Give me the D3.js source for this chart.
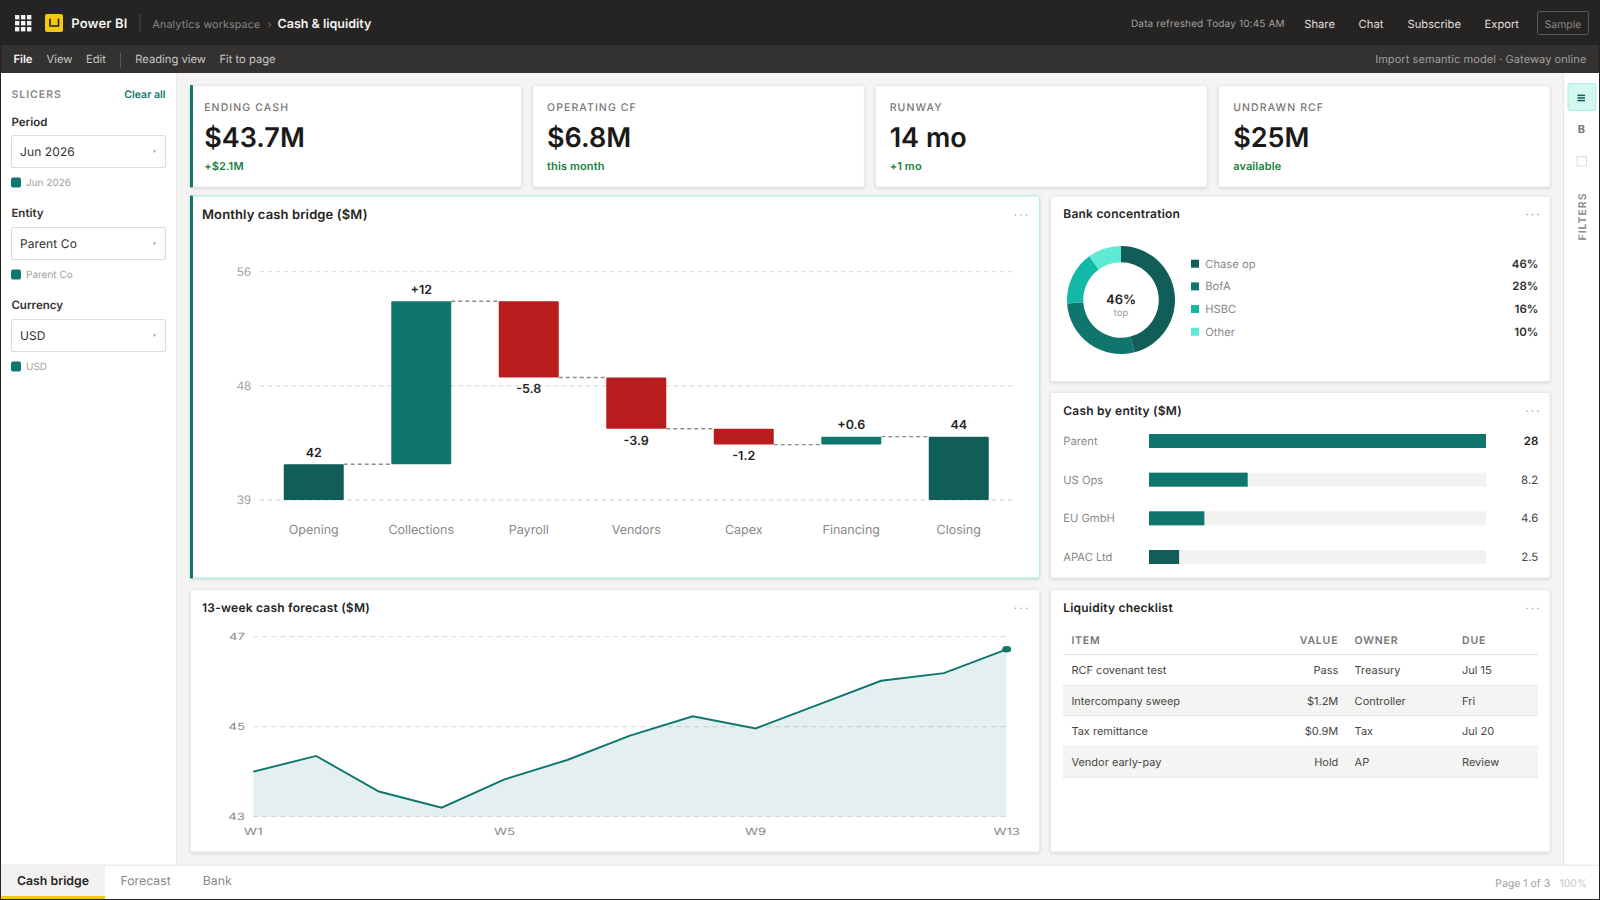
<!DOCTYPE html>
<html><head><meta charset="utf-8">
<script src="https://cdn.jsdelivr.net/npm/d3@7"></script>
<style>
html,body{margin:0;padding:0;background:#f4f4f2;overflow:hidden}
svg{display:block;font-family:Inter,"Noto Sans",sans-serif}
text{text-rendering:geometricPrecision}
</style></head><body><svg id="c" width="1600" height="900"></svg>
<script>
// ---- data ----
const bridgeCategories=["Opening","Collections","Payroll","Vendors","Capex","Financing","Closing"];
const bridgeDeltas=[41.6,12.4,-5.8,-3.9,-1.2,0.6,43.7];
const bridgeKinds=["total","delta","delta","delta","delta","delta","total"];
const bridgeLabels=["42","+12","-5.8","-3.9","-1.2","+0.6","44"];
const bridgeTicks=[38.88,47.56,56.25];
const bridgeTickLabels=["39","48","56"];
const bankNames=["Chase op","BofA","HSBC","Other"];
const bankShares=[46,28,16,10];
const bankColors=["#115e59","#0f766e","#14b8a6","#5eead4"];
const entityNames=["Parent","US Ops","EU GmbH","APAC Ltd"];
const entityValues=[28,8.2,4.6,2.5];
const entityLabels=["28","8.2","4.6","2.5"];
const forecastWeeks=["W1","W2","W3","W4","W5","W6","W7","W8","W9","W10","W11","W12","W13"];
const forecastValues=[44.0,44.35,43.56,43.2,43.83,44.26,44.8,45.23,44.96,45.49,46.02,46.19,46.72];
const forecastTicks=[43,45,47];
const forecastXLabels=["W1","W5","W9","W13"];
const kpiTitles=["ENDING CASH","OPERATING CF","RUNWAY","UNDRAWN RCF"];
const kpiValues=["$43.7M","$6.8M","14 mo","$25M"];
const kpiNotes=["+$2.1M","this month","+1 mo","available"];
const slicerTitles=["Period","Entity","Currency"];
const slicerValues=["Jun 2026","Parent Co","USD"];
const tableHeaders=["ITEM","VALUE","OWNER","DUE"];
const tableRows=[["RCF covenant test","Pass","Treasury","Jul 15"],["Intercompany sweep","$1.2M","Controller","Fri"],["Tax remittance","$0.9M","Tax","Jul 20"],["Vendor early-pay","Hold","AP","Review"]];

// ---- helpers ----
const svg=d3.select("#c");
function T(p,x,y,s,o={}){
  const t=p.append("text").attr("x",x).attr("y",y).attr("dominant-baseline","central").text(s)
   .attr("font-size",o.size||12).attr("font-weight",o.weight||400).attr("fill",o.fill||"#252423")
   .attr("text-anchor",o.anchor||"start");
  if(o.ls)t.attr("letter-spacing",o.ls);
  return t;
}
function R(p,x,y,w,h,fill,o={}){
  const r=p.append("rect").attr("x",x).attr("y",y).attr("width",w).attr("height",h).attr("fill",fill);
  if(o.rx)r.attr("rx",o.rx);
  if(o.stroke)r.attr("stroke",o.stroke).attr("stroke-width",o.sw||1);
  return r;
}
function card(x0,y0,x1,y1,o={}){
  const r=R(svg,x0+.5,y0+.5,x1-x0-1,y1-y0-1,"#fff",{rx:2,stroke:o.stroke||"#ebeae8"});
  r.style("filter","drop-shadow(0 1px 1.5px rgba(0,0,0,.13))");
  if(o.accent)R(svg,x0,y0,3,y1-y0,"#0f766e",{rx:1});
}
function cardTitle(x,y,s,rx,o={}){
  T(svg,x,y,s,{size:o.size||12,weight:600,fill:"#252423",ls:o.ls===undefined?.22:o.ls});
  const dotY=o.dotY===undefined?y+.5:o.dotY;
  [0,5.5,11].forEach(d=>svg.append("circle").attr("cx",rx+d).attr("cy",dotY).attr("r",.8).attr("fill","#a19f9d"));
}

// ---- chrome ----
R(svg,0,0,1600,45,"#252423");
R(svg,0,45,1600,28,"#333231");
R(svg,1,73,176,793,"#fff");
R(svg,176,73,1,793,"#edebe9");
R(svg,1563,73,36,793,"#fff");
R(svg,1563,73,1,793,"#e6e5e3");
R(svg,1,865,1598,34,"#fff");
R(svg,1,864.5,1598,1.5,"#edebe9");
// frame
R(svg,0,0,1,900,"#252423");R(svg,1599,0,1,900,"#252423");R(svg,0,899,1600,1,"#252423");

// waffle + logo
d3.range(3).forEach(i=>d3.range(3).forEach(j=>R(svg,15+i*6,15+j*6,4.4,4.4,"#f3f2f1")));
R(svg,45,14,18,18,"#f2c811",{rx:2});
svg.append("path").attr("d","M50 18.5V26H58.5V18.5").attr("fill","none").attr("stroke","#252423").attr("stroke-width",1.6);
T(svg,71.3,23.5,"Power BI",{size:13,weight:600,fill:"#f3f2f1",ls:.15});
R(svg,139.5,14,1,18,"#4d4b49");
T(svg,152.5,24,"Analytics workspace",{size:10.6,fill:"#8a8886",ls:.2});
T(svg,267.5,24,"›",{size:11,fill:"#6f6d6b"});
T(svg,277.5,24,"Cash & liquidity",{size:12.5,weight:600,fill:"#f3f2f1"});
T(svg,1131,23.5,"Data refreshed Today 10:45 AM",{size:10,fill:"#a19f9d",ls:.15});
[["Share",1304.3],["Chat",1358.6],["Subscribe",1407.5],["Export",1484.6]].forEach(d=>T(svg,d[1],23.5,d[0],{size:11.2,fill:"#e1dfdd",weight:400}));
R(svg,1537.5,11.5,51,23,"none",{rx:2,stroke:"#5c5a58"});
T(svg,1563,24,"Sample",{size:10.5,fill:"#8a8886",anchor:"middle"});
// menu
T(svg,13.4,59,"File",{size:11.2,weight:600,fill:"#f3f2f1"});
[["View",46.5],["Edit",86],["Reading view",135.3],["Fit to page",219.4]].forEach(d=>T(svg,d[1],59,d[0],{size:11.2,fill:"#c8c6c4"}));
R(svg,120,53,1,15,"#5c5a58");
T(svg,1586.4,59,"Import semantic model · Gateway online",{size:11,fill:"#a19f9d",anchor:"end",ls:.08});

// ---- slicers ----
T(svg,11.4,94,"SLICERS",{size:10.5,weight:600,fill:"#8a8886",ls:1});
T(svg,165.5,94.5,"Clear all",{size:10.5,weight:600,fill:"#0f766e",anchor:"end"});
slicerTitles.forEach((s,i)=>{
  const o=i*92;
  T(svg,11.4,122+o-(i?.8:0),s,{size:11.5,weight:600,fill:"#323130"});
  R(svg,11.5,135.5+o,154,32,"#fff",{rx:2,stroke:"#dedcda",sw:1.2});
  T(svg,20,151.3+o,slicerValues[i],{size:12,fill:"#323130",ls:.1});
  T(svg,154.6,152+o,"▾",{size:5,fill:"#8a8886",anchor:"middle"});
  R(svg,11,177.5+o,10,10,"#0f766e",{rx:2});
  T(svg,26,183+o,slicerValues[i],{size:10,fill:"#a19f9d"});
});

// ---- right rail ----
R(svg,1568,83.5,28,27,"#d2f8f0",{rx:2,stroke:"#a7f0e2"});
[0,2.6,5.2].forEach(d=>R(svg,1577.5,94.6+d,7.5,1.5,"#115e59"));
T(svg,1581.5,129,"B",{size:11,weight:700,fill:"#7a7574",anchor:"middle"});
R(svg,1577,156.5,9.5,9.5,"none",{stroke:"#e1dfdd"});
T(svg,0,0,"FILTERS",{size:10.5,weight:600,fill:"#8a8886",anchor:"middle",ls:1}).attr("transform","translate(1582,216.5) rotate(-90)");

// ---- KPI ----
const kpiX=[[190,521.9],[532.3,864.8],[875,1207.6],[1218,1550.5]];
const kpiTextX=[204.2,547,889.7,1233.2];
kpiTitles.forEach((s,i)=>{
  const [a,b]=kpiX[i];
  card(a,85,b,187.5,{accent:i===0});
  const x=kpiTextX[i];
  T(svg,x,107,s,{size:10.5,weight:500,fill:"#7a7574",ls:1.1});
  T(svg,x,137.6,kpiValues[i],{size:27,weight:600,fill:"#1b1a19"});
  T(svg,x,166,kpiNotes[i],{size:11,weight:600,fill:"#15803d",ls:.12});
});

// ---- bridge ----
card(190,195.5,1040,578.5,{stroke:"#a5efe3",accent:true});
cardTitle(202,214.5,"Monthly cash bridge ($M)",1015.5,{size:13,ls:.12});
const bx=d3.scaleBand().domain(bridgeCategories).range([260,1012.5]).paddingInner(.442).paddingOuter(.221);
const by=d3.scaleLinear().domain([38.88,56.25]).range([500,271.7]);
const axisB=d3.axisLeft(by).tickValues(bridgeTicks).tickFormat((d,i)=>bridgeTickLabels[i]).tickSize(0).tickPadding(9);
const gB=svg.append("g").attr("transform","translate(260,-.4)").call(axisB);
gB.select(".domain").remove();
gB.selectAll("text").attr("font-size",12.5).attr("font-family","inherit").attr("fill","#a19f9d");
svg.append("g").selectAll("line").data(bridgeTicks).join("line")
  .attr("x1",260).attr("x2",1012.5).attr("y1",d=>by(d)).attr("y2",d=>by(d))
  .attr("stroke","#dcdbd9").attr("stroke-width",1.3).attr("stroke-dasharray","4 3.96");
let run=0;
const steps=bridgeDeltas.map((v,i)=>{
  let lo,hi,end;
  if(bridgeKinds[i]==="total"){lo=by.domain()[0];hi=v;end=v;run=v;}
  else{const s=run;end=s+v;lo=Math.min(s,end);hi=Math.max(s,end);run=end;}
  return {c:bridgeCategories[i],lo,hi,end,v,kind:bridgeKinds[i],label:bridgeLabels[i]};
});
svg.append("g").selectAll("line").data(steps.slice(0,-1)).join("line")
  .attr("x1",d=>bx(d.c)+bx.bandwidth()).attr("x2",(d,i)=>bx(steps[i+1].c))
  .attr("y1",d=>by(d.end)).attr("y2",d=>by(d.end))
  .attr("stroke","#8f8d8b").attr("stroke-width",1.3).attr("stroke-dasharray","4 3");
svg.append("g").selectAll("rect").data(steps).join("rect")
  .attr("x",d=>bx(d.c)).attr("width",bx.bandwidth()).attr("y",d=>by(d.hi)).attr("height",d=>by(d.lo)-by(d.hi))
  .attr("rx",1)
  .attr("fill",d=>d.kind==="total"?"#115e59":(d.v>=0?"#0f766e":"#b91c1c"));
svg.append("g").selectAll("text").data(steps).join("text")
  .attr("x",d=>bx(d.c)+bx.bandwidth()/2).attr("text-anchor","middle").attr("dominant-baseline","central")
  .attr("y",d=>(d.kind==="total"||d.v>=0)?by(d.hi)-10.7:by(d.lo)+12.4)
  .attr("font-size",12.5).attr("font-weight",600).attr("fill","#252423").text(d=>d.label);
svg.append("g").selectAll("text").data(bridgeCategories).join("text")
  .attr("x",d=>bx(d)+bx.bandwidth()/2).attr("y",530).attr("text-anchor","middle").attr("dominant-baseline","central")
  .attr("font-size",12.5).attr("fill","#8a8886").text(d=>d);

// ---- bank ----
card(1050,195.5,1550.5,382);
cardTitle(1063.3,213.4,"Bank concentration",1527,{dotY:214.6});
const pie=d3.pie().sort(null)(bankShares);
const arc=d3.arc().innerRadius(37.8).outerRadius(54);
svg.append("g").attr("transform","translate(1121,300)").selectAll("path").data(pie).join("path")
  .attr("d",arc).attr("fill",(d,i)=>bankColors[i]);
T(svg,1121,299.7,"46%",{size:13,weight:600,anchor:"middle",fill:"#252423"});
T(svg,1121,313,"top",{size:9.5,anchor:"middle",fill:"#a19f9d"});
const legendY=d3.scalePoint().domain(bankNames).range([264,332]);
bankNames.forEach((n,i)=>{
  const y=legendY(n)-.3;
  R(svg,1191,y-4,8,8,bankColors[i]);
  T(svg,1205.3,y-.1,n,{size:11.2,fill:"#8a8886"});
  T(svg,1538.3,y,bankShares[i]+"%",{size:11.5,weight:600,fill:"#323130",anchor:"end"});
});

// ---- entity ----
card(1050,392,1550.5,578.5);
cardTitle(1063.3,410.7,"Cash by entity ($M)",1527);
const ex=d3.scaleLinear().domain([0,28]).range([1149,1486]);
const ey=d3.scalePoint().domain(entityNames).range([441,557]);
entityNames.forEach((n,i)=>{
  const y=ey(n);
  R(svg,ex(0),y-7,ex(28)-ex(0),14,"#f3f2f1");
  R(svg,ex(0),y-7,ex(entityValues[i])-ex(0),14,i===3?"#115e59":"#0f766e");
  T(svg,1063.3,y,n,{size:11.2,fill:"#8a8886"});
  T(svg,1538.3,y,entityLabels[i],{size:11.5,weight:i===0?600:400,fill:i===0?"#252423":"#484644",anchor:"end"});
});

// ---- forecast ----
card(190,589,1040,852.5);
cardTitle(202,607.7,"13-week cash forecast ($M)",1015.5);
const fx=d3.scalePoint().domain(forecastWeeks).range([253.3,1006.7]);
const fy=d3.scaleLinear().domain([43,47]).range([816.7,636.7]);
svg.append("g").selectAll("line").data(forecastTicks).join("line")
  .attr("x1",253.3).attr("x2",1006.7).attr("y1",d=>fy(d)).attr("y2",d=>fy(d))
  .attr("stroke","#dcdbd9").attr("stroke-width",1).attr("stroke-dasharray","5 4");
const fxy=forecastValues.map((v,i)=>[forecastWeeks[i],v]);
svg.append("path").attr("d",d3.area().x(d=>fx(d[0])).y0(fy(43)).y1(d=>fy(d[1]))(fxy))
  .attr("fill","#0f766e").attr("opacity",.115);
svg.append("path").attr("d",d3.line().x(d=>fx(d[0])).y(d=>fy(d[1]))(fxy))
  .attr("fill","none").attr("stroke","#0f766e").attr("stroke-width",1.9);
svg.append("ellipse").attr("cx",fx("W13")).attr("cy",fy(forecastValues[12])).attr("rx",4.5).attr("ry",3.3).attr("fill","#0f766e");
function stretched(x,y,s,anchor){
  T(svg,0,0,s,{size:10,fill:"#8a8886",anchor}).attr("transform",`translate(${x},${y}) scale(1.32,1)`);
}
forecastTicks.forEach(t=>stretched(245,fy(t),t,"end"));
forecastXLabels.forEach(w=>stretched(fx(w),831.6,w,"middle"));

// ---- table ----
card(1050,589,1550.5,852.5);
cardTitle(1063.2,607.4,"Liquidity checklist",1527,{dotY:608.5});
const colX=[1071.4,1338.3,1354.6,1462], colA=["start","end","start","start"];
tableHeaders.forEach((h,i)=>T(svg,colX[i],640,h,{size:10.5,weight:600,fill:"#7a7574",anchor:colA[i],ls:.8}));
R(svg,1063,654,475,1.2,"#e6e5e3");
const rowTop=[655.2,685.5,715.6,746.5], rowH=[30.3,30.1,30.9,30.8], rowTxt=[670,701,731,762];
tableRows.forEach((r,k)=>{
  if(k%2===1)R(svg,1063,rowTop[k],475,rowH[k],"#f4f4f2");
  R(svg,1063,rowTop[k]+rowH[k]-.6,475,1.1,"#e6e5e3");
  r.forEach((c,i)=>T(svg,colX[i],rowTxt[k],c,{size:11,fill:"#484644",anchor:colA[i]}));
});

// ---- tabs ----
R(svg,1,866,104,30,"#f3f2f1");
R(svg,1,896,104,3,"#f2c811");
T(svg,53,880.4,"Cash bridge",{size:12.3,weight:600,fill:"#252423",anchor:"middle"});
T(svg,120.4,880.4,"Forecast",{size:12.3,fill:"#8a8886"});
T(svg,202.7,880.4,"Bank",{size:12.3,fill:"#8a8886"});
T(svg,1550.2,883,"Page 1 of 3",{size:10.5,fill:"#a19f9d",anchor:"end"});
T(svg,1587.3,883,"100%",{size:10.5,fill:"#c8c6c4",anchor:"end"});
</script></body></html>
